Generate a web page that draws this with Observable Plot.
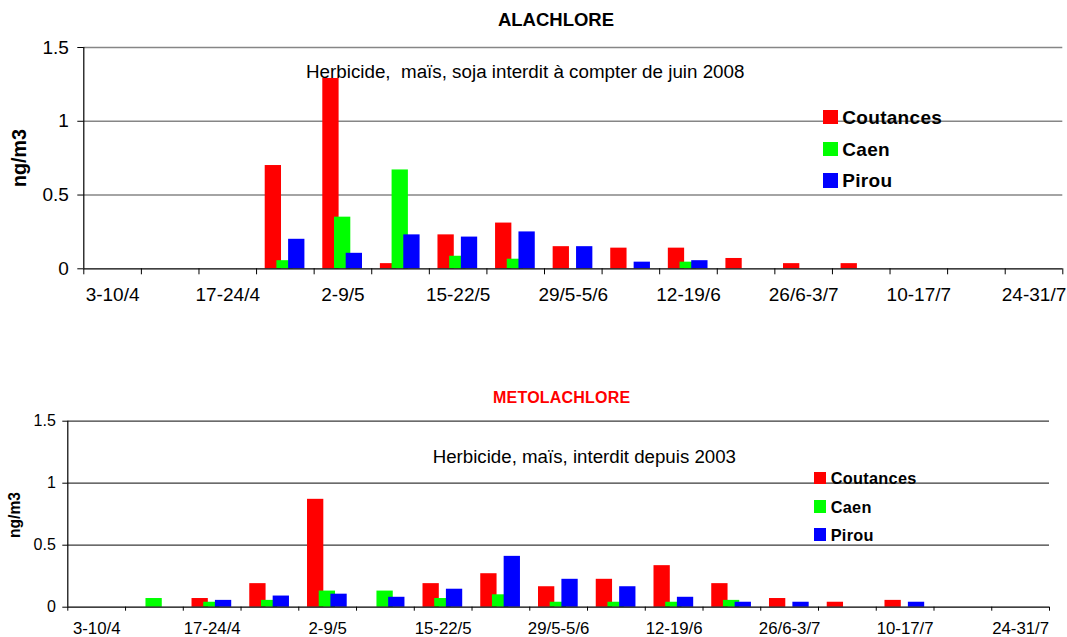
<!DOCTYPE html>
<html><head><meta charset="utf-8">
<script src="https://cdn.jsdelivr.net/npm/d3@7"></script>
<script src="https://cdn.jsdelivr.net/npm/@observablehq/plot@0.6"></script>
<style>
body{margin:0;background:#fff;}
#root{position:relative;width:1067px;height:637px;overflow:hidden;background:#fff;font-family:"Liberation Sans",Arial,sans-serif;color:#000;}
.abs{position:absolute;white-space:nowrap;line-height:1;}
.abs svg{display:block;}
</style></head><body><div id="root"></div>
<script>
// ---- data ----
const weeks = ["3-10/4","10-17/4","17-24/4","24/4-2/5","2-9/5","9-15/5","15-22/5","22-29/5","29/5-5/6","5-12/6","12-19/6","19-26/6","26/6-3/7","3-10/7","10-17/7","17-24/7","24-31/7"];
const weekLabels = ["3-10/4","17-24/4","2-9/5","15-22/5","29/5-5/6","12-19/6","26/6-3/7","10-17/7","24-31/7"];
const sites = ["Coutances","Caen","Pirou"];
const siteColors = ["#ff0000","#00ff00","#0000ff"];
const yTicks = [0, 0.5, 1, 1.5];

const alaCoutances = [0,0,0,0.70,1.29,0.035,0.23,0.31,0.15,0.14,0.14,0.07,0.035,0.035,0,0,0];
const alaCaen      = [0,0,0,0.055,0.35,0.67,0.085,0.065,0,0,0.045,0,0,0,0,0,0];
const alaPirou     = [0,0,0,0.20,0.105,0.23,0.215,0.25,0.15,0.045,0.055,0,0,0,0,0,0];

const metCoutances = [0,0,0.07,0.19,0.87,0,0.19,0.27,0.165,0.225,0.335,0.19,0.07,0.04,0.055,0,0];
const metCaen      = [0,0.07,0.04,0.055,0.13,0.13,0.07,0.10,0.04,0.04,0.04,0.055,0,0,0,0,0];
const metPirou     = [0,0,0.055,0.09,0.105,0.08,0.145,0.41,0.225,0.165,0.08,0.04,0.04,0,0.04,0,0];

const titleTop = "ALACHLORE";
const noteTop = "Herbicide,\u00a0\u00a0maïs, soja interdit à compter de juin 2008";
const titleBottom = "METOLACHLORE";
const noteBottom = "Herbicide, maïs, interdit depuis 2003";
const yLabel = "ng/m3";

const root = document.getElementById("root");
function addDiv(html, css) {
  const d = document.createElement("div");
  d.className = "abs";
  d.innerHTML = html;
  Object.assign(d.style, css);
  root.appendChild(d);
  return d;
}

function panel(series, o) {
  const table = [];
  series.forEach((vals, k) => vals.forEach((v, i) => table.push({week: weeks[i], site: sites[k], value: v})));
  const bw = (o.width - o.marginLeft - o.marginRight) / weeks.length;
  const plotH = o.height - o.marginTop - o.marginBottom;
  const inset = (bw - o.barWidth) / 2;
  const marks = [
    Plot.gridY(yTicks.slice(1), {stroke: o.gridColor, strokeOpacity: 1, strokeWidth: o.gridWidth}),
    ...sites.map((s, k) => Plot.barY(table.filter(d => d.site === s && d.value > 0), {
      x: "week", y: "value", fill: siteColors[k],
      insetLeft: inset, insetRight: inset, dx: (k - 1) * o.barStep + o.groupShift
    })),
    Plot.ruleY([0], {stroke: "#000", strokeWidth: 1.2}),
    Plot.ruleX([weeks[0]], {x: d => d, dx: -bw / 2, stroke: "#000", strokeWidth: 1.2}),
    Plot.ruleX(weeks, {x: d => d, dx: -bw / 2, insetTop: plotH, insetBottom: -o.tickLen, stroke: "#000"}),
    Plot.ruleX([weeks[weeks.length - 1]], {x: d => d, dx: bw / 2, insetTop: plotH, insetBottom: -o.tickLen, stroke: "#000"}),
    Plot.axisY({ticks: yTicks, tickSize: o.yTickSize, tickPadding: o.yTickPadding, tickFormat: d => `${d}`, label: null, fontSize: o.fontSize}),
    Plot.axisX({ticks: weekLabels, tickSize: 0, tickPadding: o.xTickPadding, label: null, fontSize: o.xFontSize})
  ];
  return Plot.plot({
    width: o.width, height: o.height,
    marginLeft: o.marginLeft, marginRight: o.marginRight, marginTop: o.marginTop, marginBottom: o.marginBottom,
    x: {type: "band", domain: weeks, padding: 0, round: false},
    y: {domain: [0, 1.5]},
    style: {fontFamily: "'Liberation Sans', Arial, sans-serif", fontSize: o.fontSize + "px", color: "#000", background: "transparent", overflow: "visible"},
    marks
  });
}

// ---- top panel ----
const topSvg = panel([alaCoutances, alaCaen, alaPirou], {
  width: 1067, height: 320, marginLeft: 83.3, marginRight: 4.7, marginTop: 47, marginBottom: 51.7,
  fontSize: 19, xFontSize: 19, gridColor: "#868686", gridWidth: 1.4, tickLen: 6, yTickSize: 6, yTickPadding: 9, xTickPadding: 19,
  barWidth: 16.3, barStep: 11.7, groupShift: -0.3
});
const topWrap = addDiv("", {left: "0px", top: "0px"});
topWrap.appendChild(topSvg);

// ---- bottom panel ----
const botSvg = panel([metCoutances, metCaen, metPirou], {
  width: 1067, height: 237, marginLeft: 67.3, marginRight: 18, marginTop: 20.7, marginBottom: 30.3,
  fontSize: 16, xFontSize: 16.8, gridColor: "#3a3a3a", gridWidth: 1.2, tickLen: 4, yTickSize: 5, yTickPadding: 7, xTickPadding: 15.3,
  barWidth: 16.3, barStep: 11.7, groupShift: -0.3
});
const botWrap = addDiv("", {left: "0px", top: "400px"});
botWrap.appendChild(botSvg);

// ---- titles, notes, axis labels ----
addDiv(titleTop, {left: "556px", top: "10.9px", transform: "translateX(-50%)", fontWeight: "bold", fontSize: "18.5px"});
addDiv(noteTop, {left: "306px", top: "63.1px", fontSize: "18.8px"});
addDiv(titleBottom, {left: "561.7px", top: "390.2px", transform: "translateX(-50%)", fontWeight: "bold", fontSize: "16px", color: "#ff0000", letterSpacing: "0.2px"});
addDiv(noteBottom, {left: "432.7px", top: "448.2px", fontSize: "18.7px"});
addDiv(yLabel, {left: "20px", top: "157.6px", transform: "translate(-50%,-50%) rotate(-90deg)", fontWeight: "bold", fontSize: "19.7px"});
addDiv(yLabel, {left: "15px", top: "514.5px", transform: "translate(-50%,-50%) rotate(-90deg)", fontWeight: "bold", fontSize: "15.6px"});

// ---- legends ----
function legend(x, ys, size, fs, textX) {
  sites.forEach((s, k) => {
    addDiv("", {left: x + "px", top: (ys[k] - size / 2) + "px", width: size + "px", height: size + "px", background: siteColors[k]});
    addDiv(s, {left: textX + "px", top: (ys[k] - 0.49 * fs) + "px", fontWeight: "bold", fontSize: fs + "px", letterSpacing: "0.3px"});
  });
}
legend(823.3, [117, 149, 180.5], 14.4, 19, 842.3);
legend(813.6, [478, 506.7, 534.7], 12.6, 16.3, 830.7);
</script></body></html>
